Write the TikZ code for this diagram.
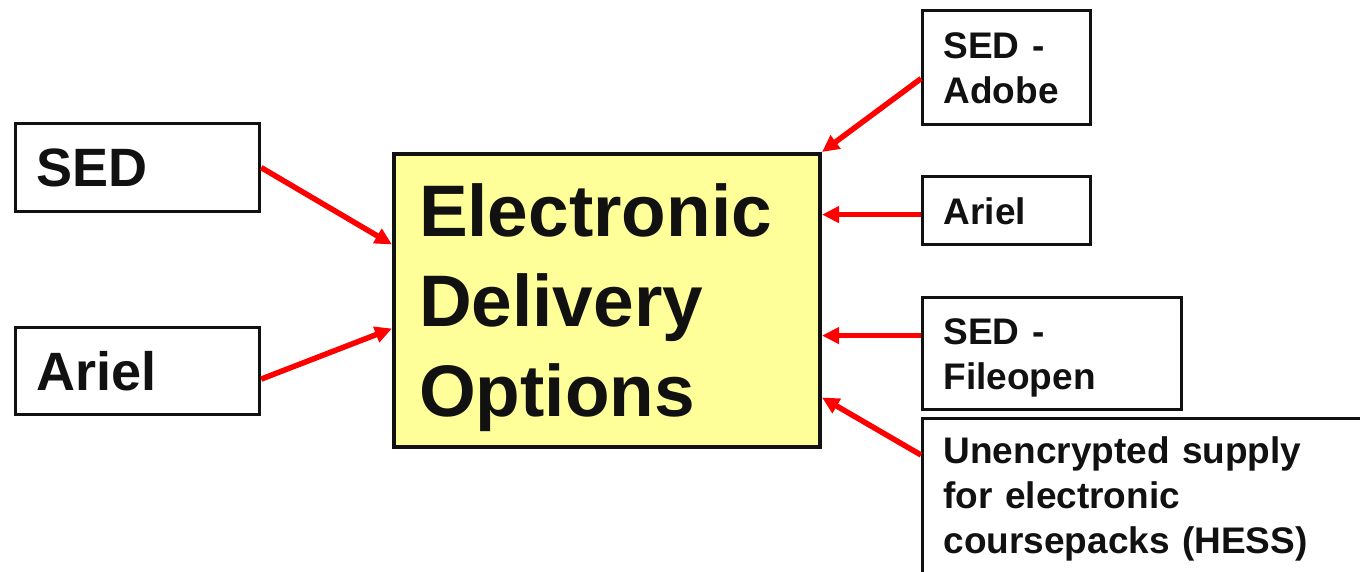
\documentclass[tikz,border=0pt]{standalone}
\usepackage{fontspec}
\setmainfont{Liberation Sans}
\usepackage{xcolor}
\usetikzlibrary{arrows.meta}
\definecolor{colorOne}{HTML}{111111}
\definecolor{colorFill}{HTML}{FFFF99}
\definecolor{colorArrow}{HTML}{FF0000}
\def\colorOne{colorOne}
\def\colorFill{colorFill}
\def\colorArrow{colorArrow}
\tikzset{
    optbox/.style={draw=\colorOne, line width=3.2pt, text=\colorOne, anchor=north west,
        align=left, inner xsep=21pt, inner ysep=0pt, text depth=0pt,
        font=\bfseries\fontsize{37}{45}\selectfont},
    sidebox/.style={optbox, font=\bfseries\fontsize{54}{64}\selectfont},
    mainbox/.style={optbox, fill=\colorFill, line width=4pt, inner xsep=25pt,
        font=\bfseries\fontsize{73}{90}\selectfont},
    feed/.style={draw=\colorArrow, line width=5.5pt, -{Triangle[length=17pt,width=16pt]}}
}
\begin{document}
\begin{tikzpicture}[x=1pt, y=-1pt]

    \useasboundingbox (0,0) rectangle (1360,572);
    \clip (0,0) rectangle (1360,572);

    % Boite centrale
    \node[mainbox, text width=376pt, minimum height=293pt, text depth=180pt] (main) at (392,152)
        {Electronic\\Delivery\\Options};

    % Boites de gauche
    \node[sidebox, text width=202pt, minimum height=88pt] (sedL) at (14,122) {SED};
    \node[sidebox, text width=202pt, minimum height=87pt] (arielL) at (14,326) {Ariel};

    % Boites de droite
    \node[optbox, text width=126pt, minimum height=114pt, text depth=45pt] (adobeR) at (921,9) {SED -\\Adobe};
    \node[optbox, text width=126pt, minimum height=68pt] (arielR) at (921,175) {Ariel};
    \node[optbox, text width=217pt, minimum height=112pt, text depth=45pt] (fileR) at (921,296) {SED -\\Fileopen};
    \node[optbox, text width=500pt, inner ysep=18pt, text depth=120pt] (hessR) at (921,417)
        {Unencrypted supply\\for electronic\\coursepacks (HESS)};

    % Points de depart / arrivee
    \coordinate (adobeOut) at ([yshift=-11pt]adobeR.west);
    \coordinate (arielOut) at ([yshift=-4pt]arielR.west);
    \coordinate (fileOut) at ([yshift=18pt]fileR.west);
    \coordinate (hessOut) at ([yshift=-38pt]hessR.north west);
    \coordinate (arielLOut) at ([yshift=-8pt]arielL.east);

    % Fleches
    \draw[feed] (sedL.east) -- ([yshift=56pt]main.west);
    \draw[feed] (arielLOut) -- ([yshift=-28pt]main.west);
    \draw[feed] (adobeOut) -- (main.north east);
    \draw[feed] (arielOut) -- (arielOut -| main.east);
    \draw[feed] (fileOut) -- (fileOut -| main.east);
    \draw[feed] (hessOut) -- ([yshift=-97pt]main.east);

\end{tikzpicture}
\end{document}
